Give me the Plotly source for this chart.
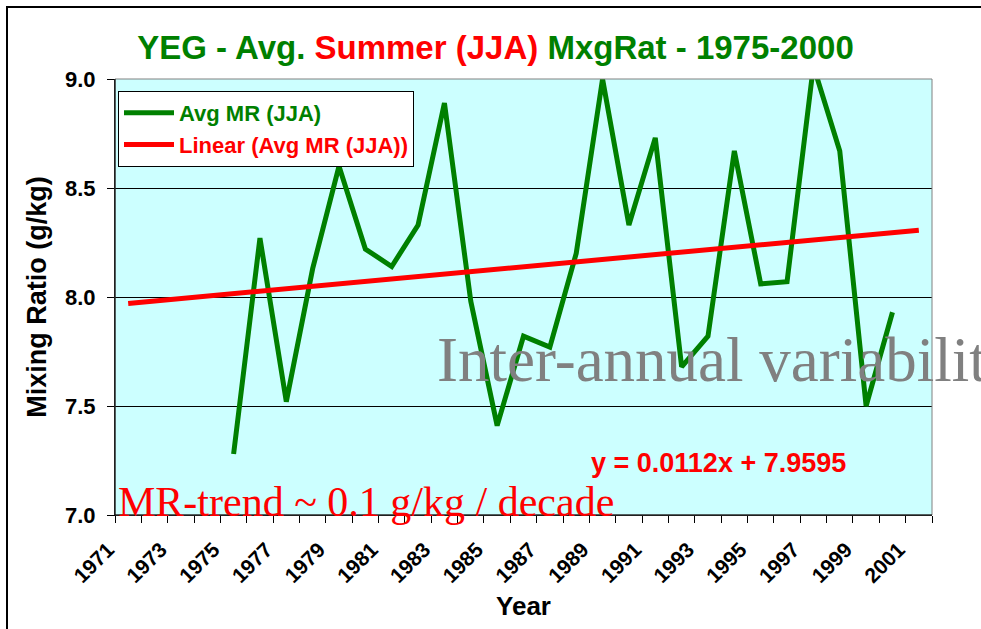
import plotly.graph_objects as go

# ---- data ----
years = list(range(1975, 2001))
avg_mr = [7.28, 8.27, 7.52, 8.13, 8.60, 8.22, 8.14, 8.33, 8.89, 7.98,
          7.41, 7.82, 7.77, 8.20, 9.00, 8.33, 8.73, 7.68, 7.82, 8.67,
          8.06, 8.07, 9.06, 8.67, 7.50, 7.93]
trend_years = list(range(1971, 2002))
trend_slope = 0.0112
trend_intercept = 7.9595
trend_vals = [trend_intercept + trend_slope * (y - 1970) for y in trend_years]
xtick_years = list(range(1971, 2002, 2))
ytick_vals = [7.0, 7.5, 8.0, 8.5, 9.0]

GREEN = "#008000"
RED = "#FF0000"
SANS = "Liberation Sans, Arial, sans-serif"
SERIF = "Liberation Serif, Times New Roman, serif"

W, H = 981, 629
L, R, T, B = 115, 49, 79, 114
PW, PH = W - L - R, H - T - B


def px_x(x):
    return (x - L) / PW


def px_y(y):
    return 1 - (y - T) / PH


fig = go.Figure()
fig.add_trace(go.Scatter(
    x=years, y=avg_mr, mode="lines",
    line=dict(color=GREEN, width=5),
    name=f"<span style='color:{GREEN}'>Avg MR (JJA)</span>",
))
fig.add_trace(go.Scatter(
    x=trend_years, y=trend_vals, mode="lines",
    line=dict(color=RED, width=5),
    name=f"<span style='color:{RED}'>Linear (Avg MR (JJA))</span>",
))

fig.update_layout(
    width=W, height=H,
    margin=dict(l=L, r=R, t=T, b=B, autoexpand=False),
    paper_bgcolor="white",
    plot_bgcolor="#CCFFFF",
    font=dict(family=SANS, color="black"),
    title=dict(
        text=f"YEG - Avg. <span style='color:{RED}'>Summer (JJA)</span> MxgRat - 1975-2000",
        font=dict(family=SANS, size=33, color=GREEN, weight="bold"),
        x=495.5 / W, xanchor="center", xref="container",
        y=1 - 47 / H, yanchor="middle", yref="container",
    ),
    legend=dict(
        x=px_x(118), y=px_y(91), xanchor="left", yanchor="top",
        bgcolor="white", bordercolor="black", borderwidth=1,
        itemwidth=50,
        font=dict(family=SANS, size=22, weight="bold"),
    ),
    showlegend=True,
)

fig.update_xaxes(
    range=[1970.5, 2001.5],
    tickvals=xtick_years,
    ticktext=[str(y) for y in xtick_years],
    tickangle=-45,
    ticks="",
    ticklabelstandoff=13,
    ticklabelshift=-20,
    tickfont=dict(family=SANS, size=21, weight="bold", color="black"),
    showgrid=False, zeroline=False,
    showline=True, linecolor="black", linewidth=1,
    minor=dict(tick0=1970.5, dtick=1, ticks="outside", ticklen=7,
               tickcolor="black", showgrid=False),
    title=dict(text="Year", font=dict(family=SANS, size=26, weight="bold"),
               standoff=10),
)
fig.update_yaxes(
    range=[7.0, 9.0],
    tickvals=ytick_vals,
    ticktext=[f"{v:.1f}" for v in ytick_vals],
    ticks="outside", ticklen=7, tickcolor="black",
    ticklabelstandoff=7,
    tickfont=dict(family=SANS, size=22, weight="bold", color="black"),
    showgrid=True, gridcolor="black", gridwidth=1,
    zeroline=False,
    showline=True, linecolor="black", linewidth=1,
    title=dict(text="Mixing Ratio (g/kg)",
               font=dict(family=SANS, size=27, weight="bold"),
               standoff=10),
)

# plot-area gray frame (top/right) and outer chart border
fig.add_shape(type="rect", xref="paper", yref="paper", x0=0, x1=1, y0=0, y1=1,
              line=dict(color="#808080", width=1), layer="above")
fig.add_shape(type="line", xref="paper", yref="paper", x0=0, x1=0, y0=0, y1=1,
              line=dict(color="black", width=1), layer="above")
fig.add_shape(type="line", xref="paper", yref="paper", x0=0, x1=1, y0=0, y1=0,
              line=dict(color="black", width=1), layer="above")
fig.add_shape(type="rect", xref="paper", yref="paper",
              x0=px_x(7), x1=1.3, y0=-0.6, y1=px_y(7),
              line=dict(color="black", width=2), layer="above")

fig.add_annotation(
    text="Inter-annual variability", xref="paper", yref="paper",
    x=px_x(435), y=px_y(360), xanchor="left", yanchor="middle",
    showarrow=False, font=dict(family=SERIF, size=63, color="#808080"),
)
fig.add_annotation(
    text="MR-trend ~ 0.1 g/kg / decade", xref="paper", yref="paper",
    x=px_x(116), y=px_y(502), xanchor="left", yanchor="middle",
    showarrow=False, font=dict(family=SERIF, size=42, color=RED),
)
fig.add_annotation(
    text="y = 0.0112x + 7.9595", xref="paper", yref="paper",
    x=px_x(718), y=px_y(463), xanchor="center", yanchor="middle",
    showarrow=False, font=dict(family=SANS, size=27, color=RED, weight="bold"),
)

fig.write_html("out.html", config={"displayModeBar": False},
               post_script="document.body.style.margin='0';document.body.style.overflow='hidden';")
